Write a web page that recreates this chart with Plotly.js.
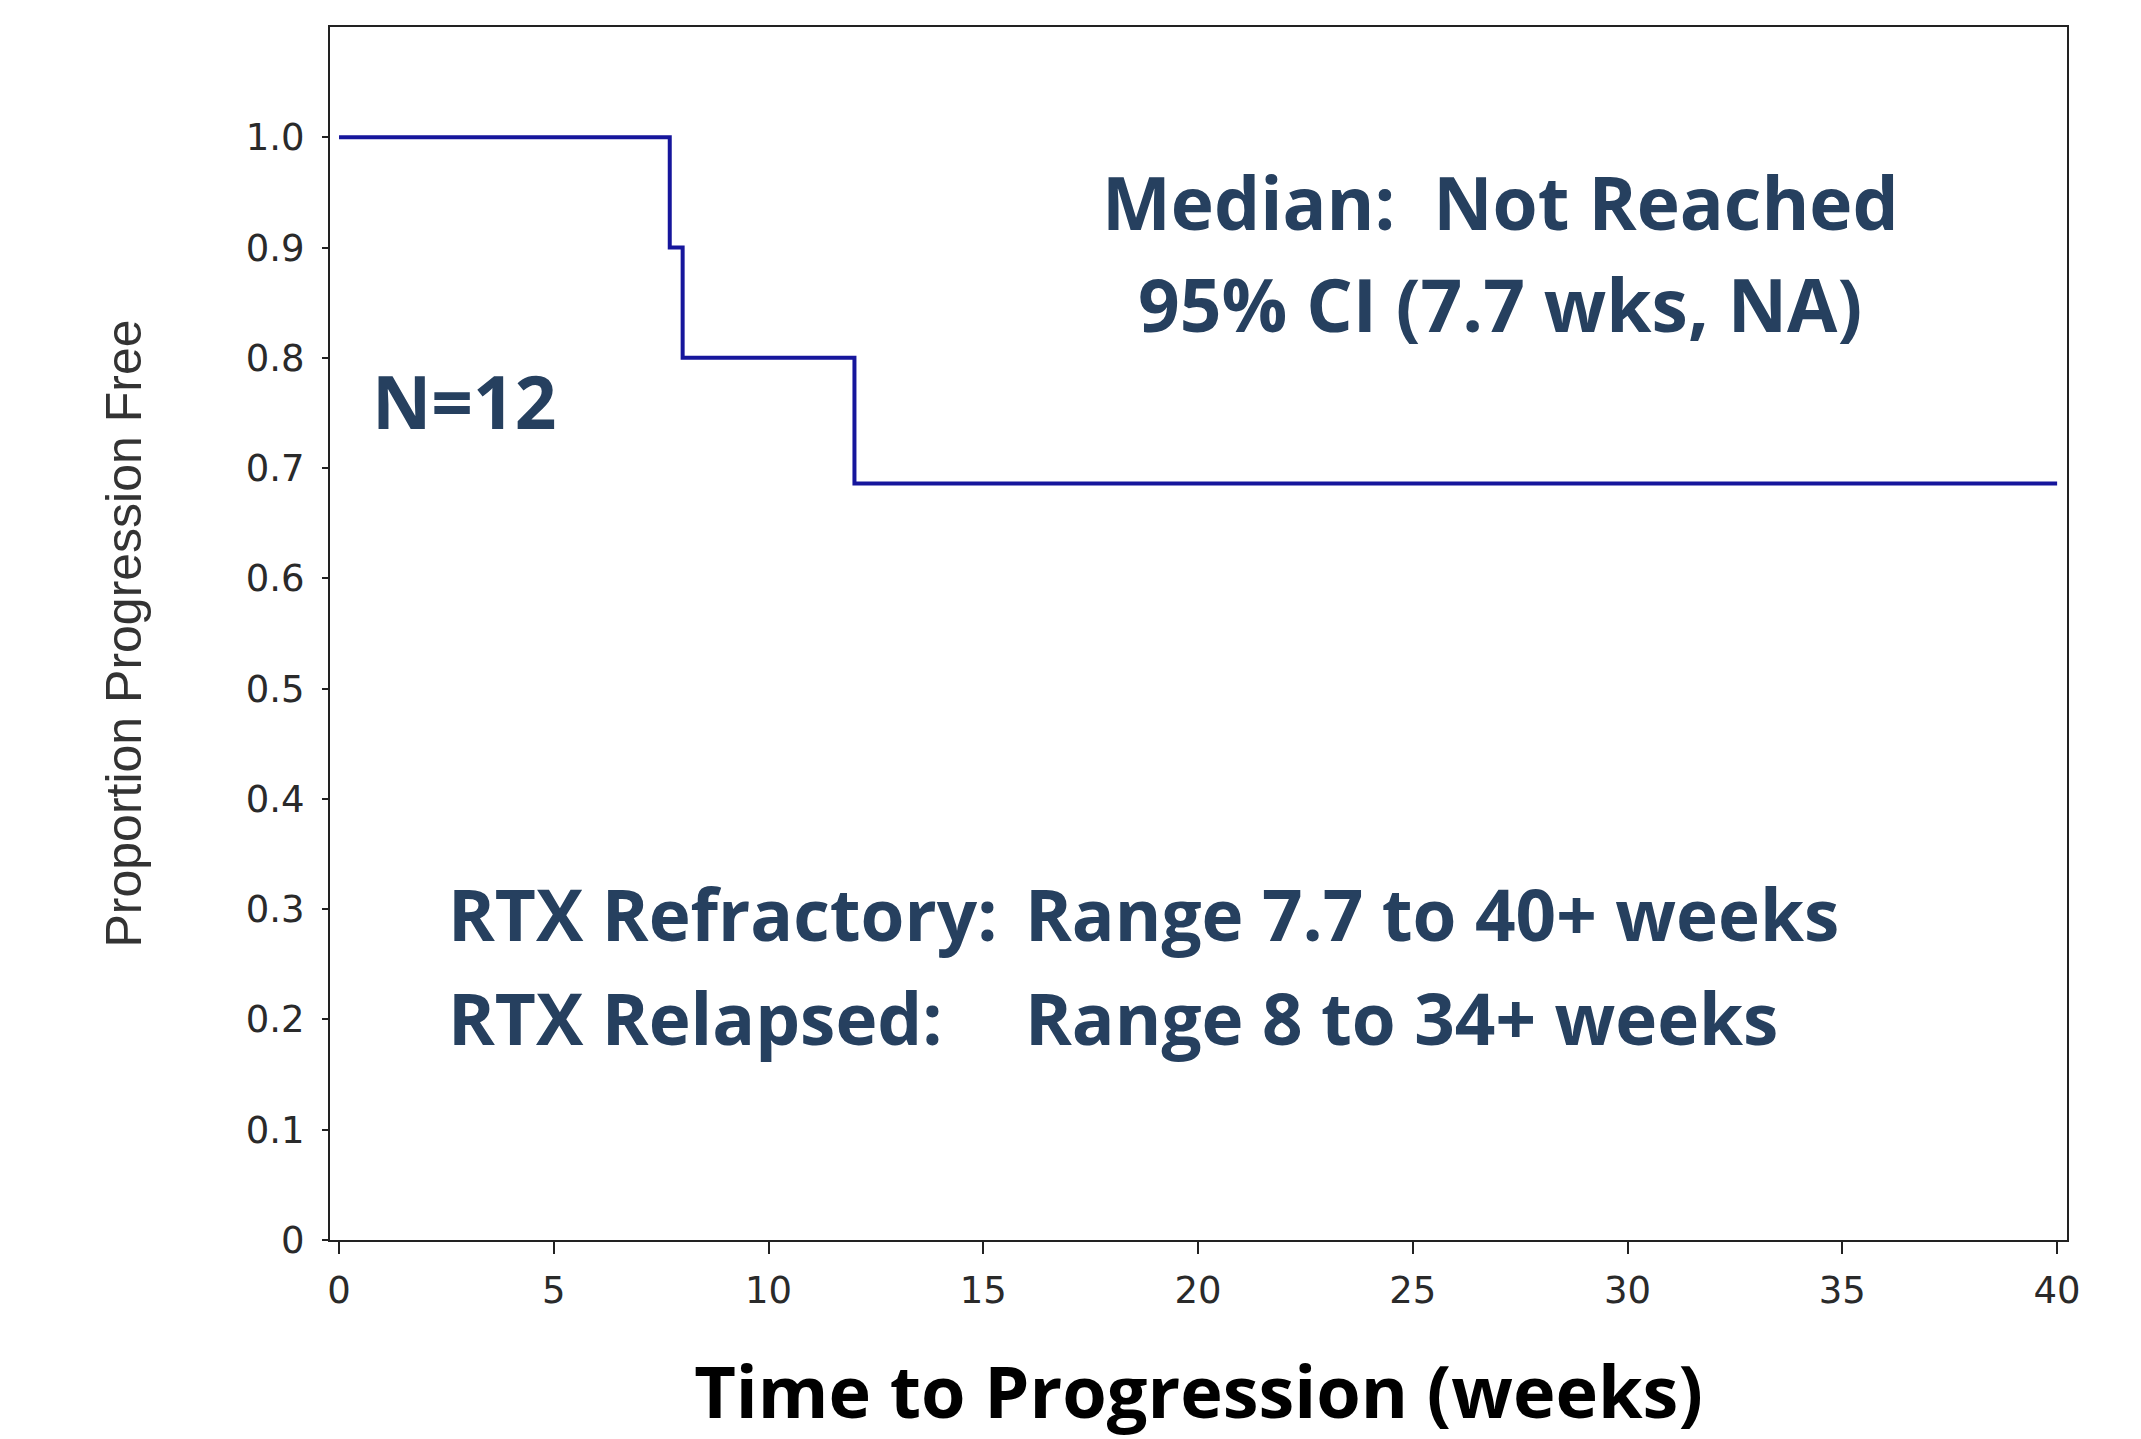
<!DOCTYPE html>
<html>
<head>
<meta charset="utf-8">
<script src="https://cdn.plot.ly/plotly-3.0.1.min.js"></script>
<style>
  html, body { margin: 0; padding: 0; background: #ffffff; }
  #chart { width: 2141px; height: 1439px; }
</style>
</head>
<body>
<div id="chart"></div>
<script>
// Kaplan-Meier step data (weeks, proportion progression free)
const weeks = [0, 7.7, 8, 12, 40];
const proportion = [1.0, 0.9, 0.8, 0.686, 0.686];

// Axis ticks
const xTickVals = [0, 5, 10, 15, 20, 25, 30, 35, 40];
const xTickText = ['0', '5', '10', '15', '20', '25', '30', '35', '40'];
const yTickVals = [0, 0.1, 0.2, 0.3, 0.4, 0.5, 0.6, 0.7, 0.8, 0.9, 1.0];
const yTickText = ['0', '0.1', '0.2', '0.3', '0.4', '0.5', '0.6', '0.7', '0.8', '0.9', '1.0'];

// Text
const xTitle = 'Time to Progression (weeks)';
const yTitle = 'Proportion Progression Free';
const medianText = 'Median:  Not Reached';
const ciText = '95% CI (7.7 wks, NA)';
const nText = 'N=12';
const refractoryLabel = 'RTX Refractory:';
const refractoryRange = 'Range 7.7 to 40+ weeks';
const relapsedLabel = 'RTX Relapsed:';
const relapsedRange = 'Range 8 to 34+ weeks';

const annColor = '#26405f';
const annFont = {family: 'Open Sans, Noto Sans, sans-serif', size: 73, color: annColor, weight: 700};
const rangeFont = {family: 'Open Sans, Noto Sans, sans-serif', size: 71, color: annColor, weight: 700};

const trace = {
  type: 'scatter',
  mode: 'lines',
  x: weeks,
  y: proportion,
  line: {shape: 'hv', color: '#16169c', width: 4},
  hoverinfo: 'skip',
  showlegend: false
};

function ann(text, x, y, xanchor, font) {
  return {
    text: text, x: x, y: y, xref: 'x', yref: 'y',
    xanchor: xanchor, yanchor: 'middle', showarrow: false,
    font: font || annFont
  };
}

const layout = {
  width: 2141,
  height: 1439,
  paper_bgcolor: '#ffffff',
  plot_bgcolor: '#ffffff',
  margin: {l: 330, r: 74, t: 27, b: 199},
  showlegend: false,
  xaxis: {
    range: [-0.21, 40.23],
    tickvals: xTickVals,
    ticktext: xTickText,
    ticks: 'outside',
    ticklen: 12,
    tickwidth: 2,
    tickcolor: '#222',
    showline: true,
    linecolor: '#222',
    linewidth: 2,
    mirror: true,
    showgrid: false,
    zeroline: false,
    ticklabelstandoff: 5,
    tickfont: {family: 'DejaVu Sans, sans-serif', size: 37, color: '#2a2a2a'},
    title: {
      text: xTitle,
      standoff: 62,
      font: {family: 'Open Sans, Noto Sans, sans-serif', size: 72, color: '#000', weight: 700}
    }
  },
  yaxis: {
    range: [0, 1.1],
    tickvals: yTickVals,
    ticktext: yTickText,
    ticks: 'outside',
    ticklen: 6,
    tickwidth: 2,
    tickcolor: '#222',
    showline: true,
    linecolor: '#222',
    linewidth: 2,
    mirror: true,
    showgrid: false,
    zeroline: false,
    ticklabelstandoff: 10,
    tickfont: {family: 'DejaVu Sans, sans-serif', size: 37, color: '#2a2a2a'},
    title: {
      text: yTitle,
      standoff: 88,
      font: {family: 'Liberation Sans, Arial, sans-serif', size: 50, color: '#333'}
    }
  },
  annotations: [
    ann(medianText, 27.03, 0.942, 'center'),
    ann(ciText, 27.03, 0.849, 'center'),
    ann(nText, 2.91, 0.761, 'center'),
    ann(refractoryLabel, 2.49, 0.296, 'left', rangeFont),
    ann(refractoryRange, 15.93, 0.296, 'left', rangeFont),
    ann(relapsedLabel, 2.49, 0.202, 'left', rangeFont),
    ann(relapsedRange, 15.93, 0.202, 'left', rangeFont)
  ]
};

Plotly.newPlot('chart', [trace], layout, {staticPlot: true, displayModeBar: false});
</script>
</body>
</html>
